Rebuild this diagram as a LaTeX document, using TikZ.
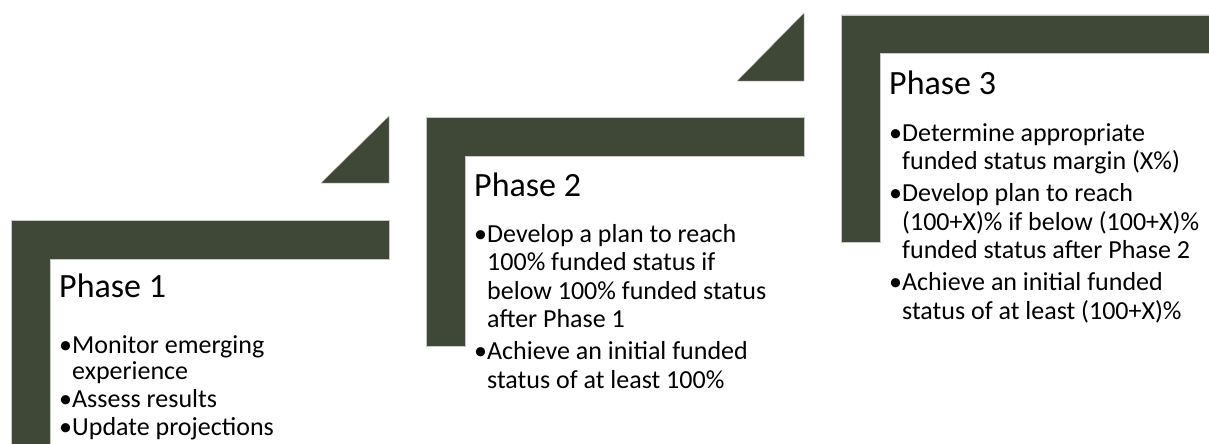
\documentclass[tikz,border=0pt]{standalone}
\usepackage{fontspec}
\setmainfont{Carlito}
\definecolor{olivedark}{RGB}{63,71,55}
\definecolor{edgegray}{RGB}{200,200,200}
\newlength{\bulw}\setlength{\bulw}{13pt}
\newcommand{\bulitem}[1]{\par\hangindent=\bulw\hangafter=1\noindent\makebox[\bulw][l]{•}#1\par}
% #1 heading text, #2 extra space below heading
\newcommand{\phasehead}[2]{{\fontsize{34}{38}\selectfont #1\par}\vspace{#2}}
\newcommand{\bulgap}[1]{\vspace{#1}}
\tikzset{
  lshape/.style={fill=olivedark, draw=edgegray, line width=0.4pt},
  tri/.style={fill=olivedark, draw=edgegray, line width=0.4pt},
  phasetext/.style={anchor=base west, inner sep=0pt, text width=400pt, align=flush left, text=black},
}
\begin{document}
\begin{tikzpicture}[x=1pt,y=-1pt]
\useasboundingbox (0,0) rectangle (1209,444);
\clip (0,0) rectangle (1209,444);
\fill[white] (0,0) rectangle (1209,444);
% Phase 1 L-shape
\path[lshape] (11,220) -- (389,220) -- (389,259) -- (50,259) -- (50,460) -- (11,460) -- cycle;
% Phase 2 L-shape
\path[lshape] (426,117) -- (804,117) -- (804,156) -- (465,156) -- (465,346) -- (426,346) -- cycle;
% Phase 3 L-shape
\path[lshape] (841,15) -- (1220,15) -- (1220,53) -- (880,53) -- (880,242) -- (841,242) -- cycle;
% Triangles
\path[tri] (321,183) -- (389,183) -- (389,116) -- cycle;
\path[tri] (737,81) -- (804,81) -- (804,13) -- cycle;
% Texts
\node[phasetext, font=\fontsize{26}{26.5}\selectfont] (p1) at (59,297) {\phasehead{Phase 1}{29.5pt}%
\bulitem{Monitor emerging\newline experience}%
\bulgap{1.5pt}\bulitem{Assess results}%
\bulgap{1.5pt}\bulitem{Update projections}};
\node[phasetext, font=\fontsize{26}{28.5}\selectfont] (p2) at (474,196) {\phasehead{Phase 2}{17.5pt}%
\bulitem{Develop a plan to reach\newline 100\% funded status if\newline below 100\% funded status\newline after Phase 1}%
\bulgap{3.5pt}\bulitem{Achieve an initial funded\newline status of at least 100\%}};
\node[phasetext, font=\fontsize{26}{28.5}\selectfont] (p3) at (889,94) {\phasehead{Phase 3}{18.5pt}%
\bulitem{Determine appropriate\newline funded status margin (X\%)}%
\bulgap{3.5pt}\bulitem{Develop plan to reach\newline (100+X)\% if below (100+X)\%\newline funded status after Phase 2}%
\bulgap{3.5pt}\bulitem{Achieve an initial funded\newline status of at least (100+X)\%}};
\end{tikzpicture}
\end{document}
